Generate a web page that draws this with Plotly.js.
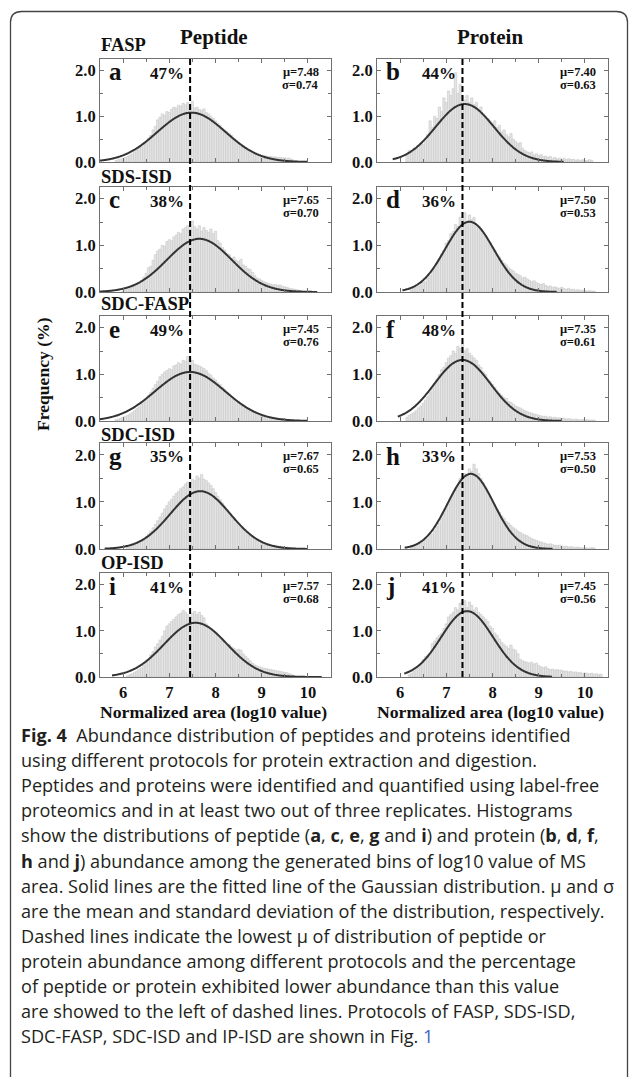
<!DOCTYPE html>
<html>
<head>
<meta charset="utf-8">
<script src="https://cdn.plot.ly/plotly-3.0.1.min.js"></script>
<style>
html,body{margin:0;padding:0;background:#fff;}
#chart{width:629px;height:1077px;}
</style>
</head>
<body>
<div id="chart"></div>
<script>
// ---------------- DATA ----------------
const protocols = ['FASP', 'SDS-ISD', 'SDC-FASP', 'SDC-ISD', 'OP-ISD'];
const columnTitles = ['Peptide', 'Protein'];
const panelLetters = ['a', 'b', 'c', 'd', 'e', 'f', 'g', 'h', 'i', 'j'];

const pepMu = [7.48, 7.65, 7.45, 7.67, 7.57];
const pepSigma = [0.74, 0.70, 0.76, 0.65, 0.68];
const pepPct = [47, 38, 49, 35, 41];
const protMu = [7.40, 7.50, 7.35, 7.53, 7.45];
const protSigma = [0.63, 0.53, 0.61, 0.50, 0.56];
const protPct = [44, 36, 48, 33, 41];

const xTicks = [6, 7, 8, 9, 10];
const yTicks = [0, 1, 2];
const yTickText = ['0.0', '1.0', '2.0'];

// histogram frequencies (%), bins of 0.05 starting at histStart
const histBin = 0.05;
const sourceBin = 0.02; // bin width behind the plotted frequencies
const histStart = [5.85, 6.15, 6.00, 6.25, 5.85, 6.15, 6.10, 6.25, 6.10, 6.20];

const histA = [0.03,0.05,0.06,0.08,0.10,0.12,0.15,0.18,0.22,0.26,0.30,0.33,0.40,0.44,0.52,0.58,0.70,0.78,0.92,0.98,1.05,1.02,1.10,1.08,1.15,1.20,1.18,1.24,1.22,1.28,1.25,1.30,1.22,1.32,1.18,1.20,1.15,1.12,1.16,1.08,1.05,1.00,0.95,0.90,0.84,0.80,0.74,0.70,0.66,0.62,0.58,0.52,0.48,0.42,0.38,0.33,0.30,0.26,0.24,0.20,0.19,0.17,0.16,0.15,0.14,0.13,0.12,0.12,0.11,0.11,0.10,0.10,0.09,0.09,0.08,0.08,0.06,0.03];
const histB = [0.15,0.25,0.22,0.30,0.28,0.35,0.40,0.38,0.48,0.60,0.90,0.75,1.00,0.95,1.20,1.10,1.40,1.30,1.55,1.45,1.60,1.95,1.50,1.70,1.45,1.35,1.45,1.30,1.40,1.25,1.30,1.15,1.20,1.05,1.00,0.95,0.90,0.85,0.90,0.75,0.80,0.65,0.70,0.60,0.55,0.62,0.50,0.45,0.40,0.42,0.30,0.25,0.22,0.20,0.22,0.15,0.18,0.14,0.16,0.12,0.13,0.10,0.12,0.08,0.10,0.07,0.08,0.06,0.08,0.05,0.07,0.05,0.06,0.04,0.05,0.03,0.05,0.04,0.03,0.05,0.03];
const histC = [0.02,0.04,0.06,0.08,0.10,0.13,0.16,0.20,0.25,0.32,0.40,0.52,0.55,0.68,0.80,0.88,0.92,1.00,0.98,1.08,1.12,1.10,1.18,1.22,1.28,1.25,1.35,1.38,1.42,1.35,1.52,1.40,1.35,1.42,1.30,1.38,1.32,1.28,1.35,1.25,1.30,1.10,1.05,0.95,0.90,0.82,0.80,0.72,0.75,0.68,0.65,0.70,0.58,0.55,0.50,0.48,0.42,0.35,0.30,0.28,0.25,0.22,0.20,0.18,0.17,0.15,0.16,0.14,0.15,0.12,0.11,0.10,0.08,0.07,0.06,0.05,0.04,0.03];
const histD = [0.05,0.08,0.10,0.12,0.15,0.20,0.22,0.30,0.35,0.45,0.50,0.62,0.70,0.82,0.90,1.05,1.10,1.25,1.30,1.45,1.40,1.60,1.55,1.70,1.50,1.65,1.55,1.60,1.45,1.40,1.35,1.25,1.20,1.10,1.05,0.95,0.90,0.80,0.75,0.68,0.62,0.58,0.52,0.48,0.45,0.40,0.38,0.35,0.30,0.32,0.28,0.25,0.22,0.24,0.20,0.18,0.16,0.18,0.14,0.12,0.13,0.10,0.11,0.09,0.08,0.10,0.07,0.06,0.08,0.05,0.06,0.04,0.05,0.03,0.04,0.03,0.02,0.03,0.02,0.02];
const histE = [0.03,0.04,0.06,0.08,0.10,0.12,0.15,0.18,0.22,0.27,0.30,0.36,0.42,0.48,0.55,0.62,0.70,0.78,0.85,0.95,1.00,1.05,1.08,1.12,1.10,1.18,1.20,1.25,1.22,1.30,1.28,1.38,1.25,1.30,1.22,1.20,1.18,1.15,1.12,1.08,1.02,0.98,0.92,0.88,0.82,0.78,0.72,0.68,0.62,0.58,0.52,0.48,0.44,0.40,0.35,0.32,0.28,0.25,0.22,0.20,0.18,0.16,0.14,0.12,0.11,0.10,0.09,0.08,0.08,0.07,0.06,0.05,0.05,0.04,0.03,0.03,0.02];
const histF = [0.08,0.12,0.15,0.18,0.22,0.28,0.32,0.38,0.45,0.52,0.62,0.70,0.80,0.90,1.00,1.10,1.15,1.25,1.35,1.40,1.50,1.45,1.60,1.55,1.65,1.50,1.55,1.45,1.40,1.35,1.30,1.20,1.15,1.05,1.00,0.90,0.85,0.78,0.72,0.65,0.60,0.55,0.50,0.48,0.42,0.40,0.36,0.32,0.30,0.28,0.25,0.22,0.20,0.18,0.17,0.15,0.14,0.12,0.11,0.10,0.10,0.08,0.09,0.07,0.08,0.06,0.07,0.05,0.06,0.04,0.05,0.04,0.03,0.04,0.03,0.02,0.03,0.02,0.03,0.02,0.02,0.02];
const histG = [0.03,0.05,0.07,0.09,0.12,0.15,0.18,0.22,0.26,0.32,0.38,0.45,0.52,0.60,0.68,0.76,0.85,0.92,1.00,1.05,1.12,1.18,1.22,1.28,1.32,1.38,1.42,1.40,1.48,1.45,1.55,1.50,1.58,1.48,1.45,1.40,1.35,1.28,1.20,1.12,1.05,0.98,0.90,0.82,0.75,0.68,0.62,0.55,0.50,0.45,0.40,0.35,0.30,0.27,0.24,0.21,0.18,0.16,0.14,0.12,0.11,0.10,0.09,0.08,0.07,0.06,0.06,0.05,0.04,0.04,0.03,0.03,0.02];
const histH = [0.04,0.06,0.08,0.10,0.12,0.15,0.18,0.22,0.28,0.32,0.40,0.48,0.55,0.65,0.75,0.85,0.95,1.05,1.15,1.28,1.35,1.50,1.45,1.60,1.55,1.70,1.65,1.80,1.70,1.60,1.50,1.40,1.30,1.20,1.10,1.00,0.92,0.85,0.78,0.70,0.65,0.58,0.55,0.50,0.45,0.42,0.38,0.35,0.32,0.30,0.28,0.25,0.22,0.20,0.18,0.16,0.15,0.13,0.12,0.10,0.11,0.09,0.08,0.07,0.08,0.06,0.05,0.06,0.04,0.05,0.04,0.03,0.04,0.03,0.02,0.03,0.02,0.02,0.03,0.02];
const histI = [0.03,0.05,0.07,0.10,0.13,0.17,0.20,0.25,0.32,0.38,0.48,0.55,0.65,0.72,0.80,0.88,1.00,1.10,1.15,1.20,1.25,1.30,1.35,1.38,1.44,1.40,1.35,1.30,1.38,1.42,1.35,1.40,1.33,1.28,1.15,1.10,1.05,1.00,0.97,0.90,0.82,0.78,0.75,0.72,0.70,0.65,0.62,0.58,0.60,0.58,0.50,0.45,0.40,0.35,0.30,0.26,0.24,0.22,0.20,0.19,0.18,0.17,0.16,0.15,0.14,0.13,0.12,0.11,0.10,0.09,0.07,0.05,0.03];
const histJ = [0.05,0.08,0.12,0.15,0.20,0.28,0.38,0.44,0.48,0.52,0.72,0.78,0.85,0.90,0.95,1.05,1.15,1.30,1.35,1.40,1.50,1.45,1.60,1.55,1.65,1.50,1.62,1.55,1.45,1.50,1.40,1.35,1.30,1.25,1.20,1.10,1.05,0.95,0.90,0.82,0.75,0.70,0.66,0.62,0.69,0.60,0.58,0.50,0.38,0.35,0.33,0.32,0.30,0.32,0.28,0.30,0.25,0.22,0.20,0.22,0.18,0.16,0.17,0.15,0.16,0.14,0.15,0.12,0.13,0.11,0.12,0.10,0.11,0.09,0.10,0.08,0.09,0.08,0.07,0.08,0.06,0.07,0.05,0.06];

// x-extent of each fitted Gaussian line as drawn
const fitStart = [5.50, 5.84, 5.50, 6.05, 5.50, 5.95, 5.60, 6.10, 5.76, 6.09];
const fitEnd   = [10.0, 9.55, 10.2, 9.40, 10.0, 9.50, 10.0, 9.30, 10.3, 9.30];

const captionLines = [
  '<b>Fig. 4</b>\u00a0\u00a0Abundance distribution of peptides and proteins identified',
  'using different protocols for protein extraction and digestion.',
  'Peptides and proteins were identified and quantified using label-free',
  'proteomics and in at least two out of three replicates. Histograms',
  'show the distributions of peptide (<b>a</b>, <b>c</b>, <b>e</b>, <b>g</b> and <b>i</b>) and protein (<b>b</b>, <b>d</b>, <b>f</b>,',
  '<b>h</b> and <b>j</b>) abundance among the generated bins of log10 value of MS',
  'area. Solid lines are the fitted line of the Gaussian distribution. \u03bc and \u03c3',
  'are the mean and standard deviation of the distribution, respectively.',
  'Dashed lines indicate the lowest \u03bc of distribution of peptide or',
  'protein abundance among different protocols and the percentage',
  'of peptide or protein exhibited lower abundance than this value',
  'are showed to the left of dashed lines. Protocols of FASP, SDS-ISD,',
  'SDC-FASP, SDC-ISD and IP-ISD are shown in Fig. <span style="color:#3a66c4">1</span>'
];

// ---------------- LAYOUT GEOMETRY (pixels) ----------------
const W = 629, H = 1077;
const colX = [[100, 331], [377, 608]];
const rowTop = [59, 187, 316, 443, 573];
const rowBot = [162, 292, 421, 549, 677];
const px = v => v / W;
const py = v => 1 - v / H;

const hists = [histA, histB, histC, histD, histE, histF, histG, histH, histI, histJ];
const serif = 'Liberation Serif, Times New Roman, serif';
const sans = 'Open Sans, Noto Sans, sans-serif';

const traces = [];
const layout = {
  width: W, height: H,
  margin: {l: 0, r: 0, t: 0, b: 0},
  paper_bgcolor: '#fff', plot_bgcolor: '#fff',
  showlegend: false,
  bargap: 0,
  annotations: [],
  shapes: []
};

for (let p = 0; p < 10; p++) {
  const row = Math.floor(p / 2), col = p % 2;
  const n = p + 1;
  const xa = n === 1 ? 'x' : 'x' + n;
  const ya = n === 1 ? 'y' : 'y' + n;
  const mu = col === 0 ? pepMu[row] : protMu[row];
  const sg = col === 0 ? pepSigma[row] : protSigma[row];
  const pct = col === 0 ? pepPct[row] : protPct[row];

  const vals = hists[p];
  const centers = vals.map((_, i) => histStart[p] + i * histBin);
  traces.push({
    type: 'bar', x: centers, y: vals, width: histBin,
    xaxis: xa, yaxis: ya,
    marker: {color: 'rgb(229,229,229)', line: {color: 'rgb(200,200,200)', width: 0.6}},
    hoverinfo: 'skip'
  });

  // fitted Gaussian, scaled to frequency per source bin
  const amp = 100 * sourceBin / (sg * Math.sqrt(2 * Math.PI));
  const cx = [], cy = [];
  for (let x = fitStart[p]; x <= fitEnd[p] + 1e-9; x += 0.02) {
    cx.push(x);
    cy.push(amp * Math.exp(-0.5 * Math.pow((x - mu) / sg, 2)));
  }
  traces.push({
    type: 'scatter', mode: 'lines', x: cx, y: cy, xaxis: xa, yaxis: ya,
    line: {color: '#333', width: 2, shape: 'spline'}, hoverinfo: 'skip'
  });

  const axisCommon = {
    showline: true, linecolor: '#707070', linewidth: 1, mirror: 'ticks',
    ticks: 'inside', ticklen: 4, tickcolor: '#707070', tickwidth: 1,
    showgrid: false, zeroline: false, fixedrange: true
  };
  layout['xaxis' + (n === 1 ? '' : n)] = Object.assign({}, axisCommon, {
    domain: [px(colX[col][0]), px(colX[col][1])],
    anchor: ya, range: [5.5, 10.5],
    tickmode: 'array', tickvals: xTicks,
    showticklabels: row === 4,
    tickfont: {family: serif, size: 16.5, color: '#111', weight: 'bold'},
    minor: {dtick: 0.5, tick0: 5.5, ticks: 'inside', ticklen: 3, tickcolor: '#707070'}
  });
  layout['yaxis' + (n === 1 ? '' : n)] = Object.assign({}, axisCommon, {
    domain: [py(rowBot[row]), py(rowTop[row])],
    anchor: xa, range: [0, 2.25],
    tickmode: 'array', tickvals: yTicks, ticktext: yTickText,
    tickfont: {family: serif, size: 16.5, color: '#111', weight: 'bold'},
    minor: {dtick: 0.5, ticks: 'inside', ticklen: 3, tickcolor: '#707070'}
  });

  const L = colX[col][0], R = colX[col][1], T = rowTop[row];
  // panel letter
  layout.annotations.push({
    xref: 'paper', yref: 'paper', x: px(L + 7), y: py(T + 13), xanchor: 'left', yanchor: 'middle',
    text: '<b>' + panelLetters[p] + '</b>', showarrow: false,
    font: {family: serif, size: 25, color: '#111'}
  });
  // percent left of dashed line
  layout.annotations.push({
    xref: xa, yref: 'paper', x: col === 0 ? Math.min(...pepMu) : Math.min(...protMu), y: py(T + 14),
    xanchor: 'right', yanchor: 'middle', xshift: -4,
    text: '<b>' + pct + '%</b>', showarrow: false,
    font: {family: serif, size: 17, color: '#111'}
  });
  // mu & sigma
  layout.annotations.push({
    xref: 'paper', yref: 'paper', x: px(R - 10), y: py(T + 13), xanchor: 'right', yanchor: 'middle',
    text: '<b>\u03bc=' + mu.toFixed(2) + '</b>', showarrow: false,
    font: {family: serif, size: 12.5, color: '#111'}
  });
  layout.annotations.push({
    xref: 'paper', yref: 'paper', x: px(R - 10), y: py(T + 26), xanchor: 'right', yanchor: 'middle',
    text: '<b>\u03c3=' + sg.toFixed(2) + '</b>', showarrow: false,
    font: {family: serif, size: 12.5, color: '#111'}
  });
}

// protocol labels
const protoY = [45, 177, 304, 435, 563];
protocols.forEach((name, r) => {
  layout.annotations.push({
    xref: 'paper', yref: 'paper', x: px(99), y: py(protoY[r]), xanchor: 'left', yanchor: 'middle',
    text: '<b>' + name + '</b>', showarrow: false,
    font: {family: serif, size: 18.5, color: '#111'}
  });
});

// column titles
columnTitles.forEach((t, c) => {
  layout.annotations.push({
    xref: 'paper', yref: 'paper', x: px(c === 0 ? 214 : 490), y: py(37), xanchor: 'center', yanchor: 'middle',
    text: '<b>' + t + '</b>', showarrow: false,
    font: {family: serif, size: 21, color: '#111'}
  });
  layout.annotations.push({
    xref: 'paper', yref: 'paper', x: px((colX[c][0] + colX[c][1]) / 2 - 2), y: py(712), xanchor: 'center', yanchor: 'middle',
    text: '<b>Normalized area (log10 value)</b>', showarrow: false, borderpad: 0,
    font: {family: serif, size: 17.7, color: '#111'}
  });
});

// y title
layout.annotations.push({
  xref: 'paper', yref: 'paper', x: px(43), y: py(374), xanchor: 'center', yanchor: 'middle',
  text: '<b>Frequency (%)</b>', textangle: -90, showarrow: false,
  font: {family: serif, size: 17.6, color: '#111'}
});

// dashed lines at the lowest mu
layout.shapes.push({
  type: 'line', xref: 'x', yref: 'paper', x0: Math.min(...pepMu), x1: Math.min(...pepMu),
  y0: py(rowBot[4]), y1: py(rowTop[0]), line: {color: '#000', width: 2, dash: '6px,3px'}, layer: 'above'
});
layout.shapes.push({
  type: 'line', xref: 'x2', yref: 'paper', x0: Math.min(...protMu), x1: Math.min(...protMu),
  y0: py(rowBot[4]), y1: py(rowTop[0]), line: {color: '#000', width: 2, dash: '6px,3px'}, layer: 'above'
});

// rounded frame around figure
const fx0 = 10.5, fx1 = 627.5, fy0 = 11.5, rr = 11;
layout.shapes.push({
  type: 'path', xref: 'paper', yref: 'paper', layer: 'above',
  path: `M ${px(fx0)},${py(H + 5)} L ${px(fx0)},${py(fy0 + rr)} Q ${px(fx0)},${py(fy0)} ${px(fx0 + rr)},${py(fy0)} ` +
        `L ${px(fx1 - rr)},${py(fy0)} Q ${px(fx1)},${py(fy0)} ${px(fx1)},${py(fy0 + rr)} L ${px(fx1)},${py(H + 5)}`,
  line: {color: '#444', width: 1.3}
});

// caption
captionLines.forEach((t, i) => {
  layout.annotations.push({
    xref: 'paper', yref: 'paper', x: px(19), y: py(735 + i * 25.1), xanchor: 'left', yanchor: 'middle',
    text: t, showarrow: false, align: 'left',
    font: {family: sans, size: 18.1, color: '#231f20'}
  });
});

Plotly.newPlot('chart', traces, layout, {displayModeBar: false, staticPlot: true});
</script>
</body>
</html>
